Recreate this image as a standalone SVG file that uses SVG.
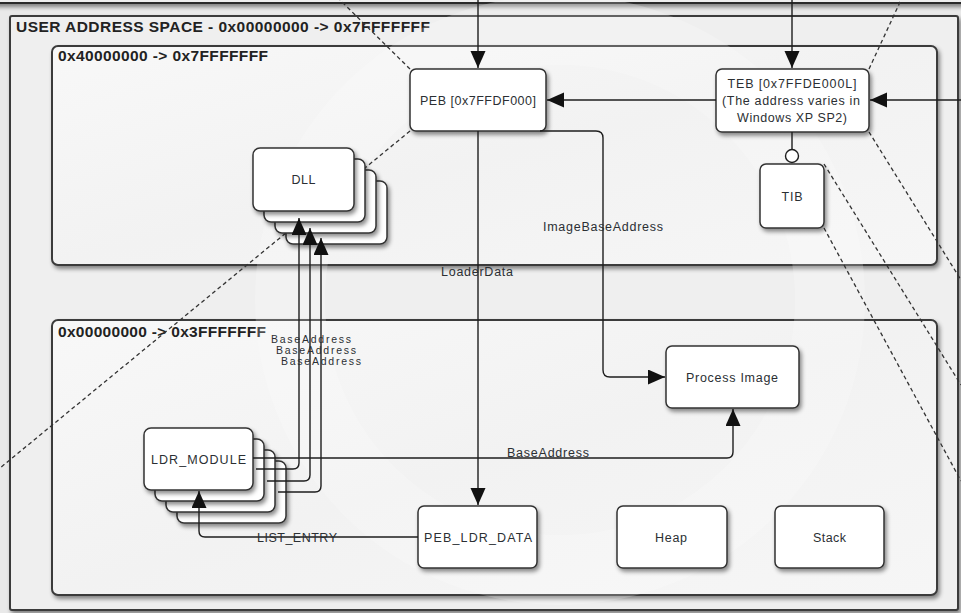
<svg xmlns="http://www.w3.org/2000/svg" width="961" height="613" viewBox="0 0 961 613">
  <defs>
    <style>
      .container { stroke: #3a3a3a; stroke-width: 2; }
      .node { fill: #ffffff; stroke: #333333; stroke-width: 1.5; }
      .title { font-family: "Liberation Sans", Arial, sans-serif; font-size: 15.5px; font-weight: bold; fill: #222222; }
      .label { font-family: "Liberation Sans", Arial, sans-serif; font-size: 12.5px; fill: #2b2f33; text-anchor: middle; }
      .small { font-size: 10.5px; }
      .edge { fill: none; stroke: #1e1e1e; stroke-width: 1.4; }
      .callout { fill: none; stroke: #333333; stroke-width: 1.3; stroke-dasharray: 4 3; }
    </style>
    <filter id="shadow" x="-10%" y="-10%" width="130%" height="140%">
      <feDropShadow dx="2" dy="3" stdDeviation="2" flood-color="#000000" flood-opacity="0.45"/>
    </filter>
    <marker id="arrow" markerUnits="userSpaceOnUse" markerWidth="18" markerHeight="16" refX="17" refY="7.5" orient="auto">
      <path d="M0,0 L17,7.5 L0,15 z" fill="#111111"/>
    </marker>
    <linearGradient id="wash" x1="0" y1="0" x2="1" y2="1">
      <stop offset="0" stop-color="#f8f8f8"/>
      <stop offset="0.5" stop-color="#f2f2f2"/>
      <stop offset="1" stop-color="#f6f6f6"/>
    </linearGradient>
  </defs>

  <!-- page background -->
  <rect x="0" y="0" width="961" height="613" fill="#e9e9e9"/>

  <!-- kernel space box (only its lower edge is in view) -->
  <g id="kernel-space">
    <rect x="-20" y="-60" width="1001" height="63" rx="6" fill="#eeeeee" stroke="#2a2a2a" stroke-width="2" filter="url(#shadow)"/>
  </g>

  <!-- user address space -->
  <g id="user-space">
    <rect x="10" y="16" width="948" height="594" rx="2" fill="#efefef" stroke="#3a3a3a" stroke-width="2" filter="url(#shadow)"/>
    <text class="title" x="16" y="32" textLength="414" lengthAdjust="spacing">USER ADDRESS SPACE - 0x00000000 -&gt; 0x7FFFFFFF</text>
  </g>

  <g id="upper-half">
    <rect class="container" x="52" y="46" width="885" height="219" rx="6" fill="url(#wash)" filter="url(#shadow)"/>
    <text class="title" x="58" y="61" textLength="210" lengthAdjust="spacing">0x40000000 -&gt; 0x7FFFFFFF</text>
  </g>

  <g id="lower-half">
    <rect class="container" x="52" y="320" width="885" height="275" rx="6" fill="url(#wash)" filter="url(#shadow)"/>
    <text class="title" x="58" y="337" textLength="208" lengthAdjust="spacing">0x00000000 -&gt; 0x3FFFFFFF</text>
  </g>

  <!-- faint watermark ring -->
  <circle cx="560" cy="300" r="270" fill="none" stroke="#ffffff" stroke-width="70" opacity="0.2"/>

  <!-- zoom callout lines -->
  <g id="callouts">
    <path class="callout" d="M410,69 L340,0"/>
    <path class="callout" d="M410,131 L0,468"/>
    <path class="callout" d="M869,69 L901,0"/>
    <path class="callout" d="M869,132 L961,280"/>
    <path class="callout" d="M824,164 L961,385"/>
    <path class="callout" d="M824,228 L961,481"/>
  </g>

  <!-- nodes -->
  <g id="peb">
    <rect class="node" x="410" y="69" width="136" height="62" rx="6" filter="url(#shadow)"/>
    <text class="label" x="478" y="104.5" textLength="116" lengthAdjust="spacing">PEB [0x7FFDF000]</text>
  </g>

  <g id="teb">
    <rect class="node" x="716" y="69" width="153" height="63" rx="6" filter="url(#shadow)"/>
    <text class="label" x="792" y="87.5" textLength="129" lengthAdjust="spacing">TEB [0x7FFDE000L]</text>
    <text class="label" x="791" y="104.5" textLength="138" lengthAdjust="spacing">(The address varies in</text>
    <text class="label" x="792" y="121.5" textLength="110" lengthAdjust="spacing">Windows XP SP2)</text>
  </g>

  <g id="tib">
    <rect class="node" x="760" y="164" width="64" height="64" rx="6" filter="url(#shadow)"/>
    <text class="label" x="792" y="201" textLength="21" lengthAdjust="spacing">TIB</text>
  </g>

  <g id="dll">
    <rect class="node" x="286" y="181" width="101" height="63" rx="7" filter="url(#shadow)"/>
    <rect class="node" x="275" y="170" width="101" height="63" rx="7" filter="url(#shadow)"/>
    <rect class="node" x="264" y="159" width="101" height="63" rx="7" filter="url(#shadow)"/>
    <rect class="node" x="253" y="148" width="101" height="63" rx="7" filter="url(#shadow)"/>
    <text class="label" x="303.5" y="184" textLength="24" lengthAdjust="spacing">DLL</text>
  </g>

  <g id="ldr-module">
    <rect class="node" x="177" y="461" width="109" height="62" rx="7" filter="url(#shadow)"/>
    <rect class="node" x="166" y="450" width="109" height="62" rx="7" filter="url(#shadow)"/>
    <rect class="node" x="155" y="439" width="109" height="62" rx="7" filter="url(#shadow)"/>
    <rect class="node" x="144" y="428" width="109" height="62" rx="7" filter="url(#shadow)"/>
    <text class="label" x="198.5" y="463.5" textLength="95" lengthAdjust="spacing">LDR_MODULE</text>
  </g>

  <g id="process-image">
    <rect class="node" x="666" y="346" width="133" height="62" rx="6" filter="url(#shadow)"/>
    <text class="label" x="732" y="381.5" textLength="92" lengthAdjust="spacing">Process Image</text>
  </g>

  <g id="peb-ldr-data">
    <rect class="node" x="418" y="506" width="119" height="62" rx="6" filter="url(#shadow)"/>
    <text class="label" x="478" y="541.5" textLength="108" lengthAdjust="spacing">PEB_LDR_DATA</text>
  </g>

  <g id="heap">
    <rect class="node" x="617" y="506" width="110" height="62" rx="6" filter="url(#shadow)"/>
    <text class="label" x="671" y="541.5" textLength="32" lengthAdjust="spacing">Heap</text>
  </g>

  <g id="stack">
    <rect class="node" x="775" y="506" width="109" height="62" rx="6" filter="url(#shadow)"/>
    <text class="label" x="829.5" y="541.5" textLength="33" lengthAdjust="spacing">Stack</text>
  </g>

  <!-- connectors -->
  <g id="connectors">
    <path class="edge" d="M478,0 V68" marker-end="url(#arrow)"/>
    <path class="edge" d="M792,0 V68" marker-end="url(#arrow)"/>
    <path class="edge" d="M716,100 H547" marker-end="url(#arrow)"/>
    <path class="edge" d="M961,100 H870" marker-end="url(#arrow)"/>

    <path class="edge" d="M792,132 V149.5"/>
    <circle cx="792" cy="156" r="6.5" fill="#ffffff" stroke="#1e1e1e" stroke-width="1.4"/>

    <path class="edge" d="M478,131 V505" marker-end="url(#arrow)"/>
    <text class="label" x="477" y="276" textLength="72" lengthAdjust="spacing">LoaderData</text>

    <path class="edge" d="M540,131 H596 Q603,131 603,138 V370 Q603,377 610,377 H665" marker-end="url(#arrow)"/>
    <text class="label" x="603" y="230.5" textLength="120" lengthAdjust="spacing">ImageBaseAddress</text>

    <path class="edge" d="M256,469 H293 Q299,469 299,463 V218" marker-end="url(#arrow)"/>
    <path class="edge" d="M267,481 H304 Q310,481 310,475 V228" marker-end="url(#arrow)"/>
    <path class="edge" d="M278,492 H315 Q321,492 321,486 V238" marker-end="url(#arrow)"/>
    <text class="label small" x="311" y="343" textLength="80" lengthAdjust="spacing">BaseAddress</text>
    <text class="label small" x="316" y="354" textLength="80" lengthAdjust="spacing">BaseAddress</text>
    <text class="label small" x="321" y="365" textLength="80" lengthAdjust="spacing">BaseAddress</text>

    <path class="edge" d="M253,458 H727 Q733,458 733,452 V409" marker-end="url(#arrow)"/>
    <text class="label" x="548" y="456.5" textLength="82" lengthAdjust="spacing">BaseAddress</text>

    <path class="edge" d="M418,537 H205 Q199,537 199,531 V491" marker-end="url(#arrow)"/>
    <text class="label" x="297" y="541.5" textLength="80" lengthAdjust="spacing">LIST_ENTRY</text>
  </g>
</svg>
